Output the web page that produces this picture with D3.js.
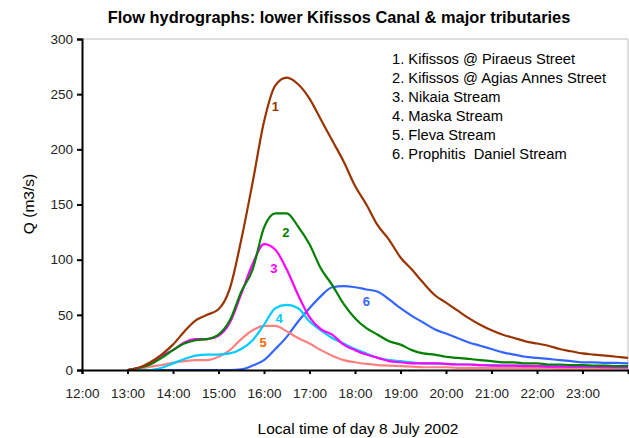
<!DOCTYPE html>
<html>
<head>
<meta charset="utf-8">
<script src="https://cdn.jsdelivr.net/npm/d3@7"></script>
<style>
  body { margin: 0; background: #fff; }
  text { font-family: "Liberation Sans", Arial, sans-serif; }
</style>
</head>
<body>
<div id="chart"></div>
<script>
// time of day, every 15 minutes
let times = ["13:00","13:15","13:30","13:45","14:00","14:15","14:30","14:45",
    "15:00","15:15","15:30","15:45","16:00","16:15","16:30","16:45",
    "17:00","17:15","17:30","17:45","18:00","18:15","18:30","18:45",
    "19:00","19:15","19:30","19:45","20:00","20:15","20:30","20:45",
    "21:00","21:15","21:30","21:45","22:00","22:15","22:30","22:45",
    "23:00","23:15","23:30","23:45","24:00"]

// Q in m3/s
let kifPiraeus = [0,2,7,14,23,35,45,50, 55,74,118,170,225,258,265,259,
    246,227,208,189,167,150,131,118, 102,91,79,68,61,54,47,41,
    36,32,29,26,24,22,19,17, 15,14,13,12,11]
let kifAgiasAnnes = [0,2,5,11,18,24,27,28, 32,45,71,91,129,142,142,130,
    114,92,77,60,47,38,32,26, 23,18,15,14,12,11,10,9,
    8,7,7,6,6,5,5,4.5, 4.5,4,4,3.5,3.5]
let nikaia = [0,2,6,13,18,25,28,28, 31,43,69,96,114,109,91,68,
    48,37,32,23,18,14,11,8, 7,6,6,6,5.5,5,5,4.5,
    4,4,4,3.5,3.5,3,3,3, 3,3,2.5,2.5,2.5]
let maska = [0,0,0,2,6,10,13,14, 14,15,19,27,41,56,59,56,
    44,36,29,24,19,15,11,9, 8,7,6,6,5.5,5,5,4.5,
    4.5,4,4,4,3.5,3.5,3.5,3, 3,3,3,2.5,2.5]
let fleva = [0,1,3,4.5,6.5,8,9,9, 12,18,28,36,40,40,35,29,
    24,18,13,9,7,5.5,4.5,4, 3.5,3,2.5,2.5,2.5,2,2,2,
    2,2,2,2,2,2,1.5,1.5, 1.5,1.5,1.5,1.5,1.5]
let prophitisDaniel = [0,0,0,0,0,0,0,0, 0,0,0.5,4,9,19,30,44,
    56,67,75,76,75,73,71,64, 56,49,43,37,33,29,25,22,
    19,16,14,12,11,10,9,8, 7,7,6.5,6.5,6]

let seriesNames = ["1. Kifissos @ Piraeus Street", "2. Kifissos @ Agias Annes Street",
    "3. Nikaia Stream", "4. Maska Stream", "5. Fleva Stream", "6. Prophitis  Daniel Stream"]
let seriesValues = [kifPiraeus, kifAgiasAnnes, nikaia, maska, fleva, prophitisDaniel]
let lineColors = ["#993300", "#008000", "#ff00ff", "#00ccff", "#ff8080", "#3366ff"]
let labelColors = ["#993300", "#008000", "#ff00ff", "#00ccff", "#ff6600", "#3366ff"]
// where the small number labels sit: [time, Q]
let labelSpots = [["16:15", 238], ["16:29", 124], ["16:13", 91], ["16:20", 46], ["15:59", 24], ["18:15", 61]]

let xTicks = ["12:00","13:00","14:00","15:00","16:00","17:00","18:00","19:00","20:00","21:00","22:00","23:00"]
let yTicks = [0, 50, 100, 150, 200, 250, 300]

function toHours(s) {
    let p = s.split(':')
    return +p[0] + (+p[1]) / 60
}

var width = 629, height = 438
var plotLeft = 82, plotRight = 628, plotTop = 39, plotBottom = 370
var fontFam = '"Liberation Sans", Arial, sans-serif'

const svg = d3.select('#chart').append('svg')
    .attr('width', width)
    .attr('height', height)

svg.append('rect').attr('width', width).attr('height', height).attr('fill', '#fff')

const xScale = d3.scaleLinear().domain([12, 24]).range([plotLeft, plotRight])
const yScale = d3.scaleLinear().domain([0, 300]).range([plotBottom, plotTop])

// plot area frame (grey on top / right)
svg.append('path')
    .attr('d', 'M' + plotLeft + ',' + plotTop + 'H' + plotRight + 'V' + plotBottom)
    .attr('fill', 'none')
    .attr('stroke', '#c0c0c0')
    .attr('stroke-width', 1)

const line = d3.line()
    .x((d, i) => xScale(toHours(times[i])))
    .y(d => yScale(d))
    .curve(d3.curveMonotoneX)

// draw 6 first so 1 ends up on top
for (let k = seriesValues.length - 1; k >= 0; k--) {
    svg.append('path')
        .datum(seriesValues[k])
        .attr('d', line)
        .attr('fill', 'none')
        .attr('stroke', lineColors[k])
        .attr('stroke-width', 2.2)
        .attr('stroke-linejoin', 'round')
}

svg.selectAll('.numlabel')
    .data(labelSpots)
    .enter()
    .append('text')
    .attr('class', 'numlabel')
    .attr('x', d => xScale(toHours(d[0])))
    .attr('y', d => yScale(d[1]))
    .attr('text-anchor', 'middle')
    .attr('dominant-baseline', 'middle')
    .attr('font-size', 13)
    .attr('font-weight', 'bold')
    .attr('fill', (d, i) => labelColors[i])
    .text((d, i) => i + 1)

// axes
const xAxis = d3.axisBottom(xScale)
    .tickValues(xTicks.map(toHours))
    .tickFormat((d, i) => xTicks[i])
    .tickSize(4)
    .tickPadding(14)
const gx = svg.append('g')
    .attr('transform', 'translate(0,' + plotBottom + ')')
    .call(xAxis)
gx.select('.domain').attr('stroke', '#000').attr('stroke-width', 2)
gx.selectAll('.tick line').attr('stroke', '#000').attr('stroke-width', 2)
gx.selectAll('.tick text').attr('font-size', 13.5).attr('fill', '#222')
    .style('font-family', fontFam)

const yAxis = d3.axisLeft(yScale)
    .tickValues(yTicks)
    .tickSize(5)
    .tickPadding(4)
const gy = svg.append('g')
    .attr('transform', 'translate(' + plotLeft + ',0)')
    .call(yAxis)
gy.select('.domain').attr('stroke', '#000').attr('stroke-width', 2)
gy.selectAll('.tick line').attr('stroke', '#000').attr('stroke-width', 2)
gy.selectAll('.tick text').attr('font-size', 13.5).attr('fill', '#222')
    .style('font-family', fontFam)

// legend (text only)
svg.selectAll('.legend')
    .data(seriesNames)
    .enter()
    .append('text')
    .attr('class', 'legend')
    .attr('x', 392)
    .attr('y', (d, i) => 64 + i * 18.9)
    .attr('font-size', 14.7)
    .attr('fill', '#000')
    .style('white-space', 'pre')
    .text(d => d)

// titles
svg.append('text')
    .attr('x', 339)
    .attr('y', 23)
    .attr('text-anchor', 'middle')
    .attr('font-size', 16.4)
    .attr('font-weight', 'bold')
    .text('Flow hydrographs: lower Kifissos Canal & major tributaries')

svg.append('text')
    .attr('x', 358)
    .attr('y', 434)
    .attr('text-anchor', 'middle')
    .attr('font-size', 15.5)
    .text('Local time of day 8 July 2002')

svg.append('text')
    .attr('transform', 'translate(34,204) rotate(-90)')
    .attr('text-anchor', 'middle')
    .attr('font-size', 15.5)
    .text('Q (m3/s)')
</script>
</body>
</html>
